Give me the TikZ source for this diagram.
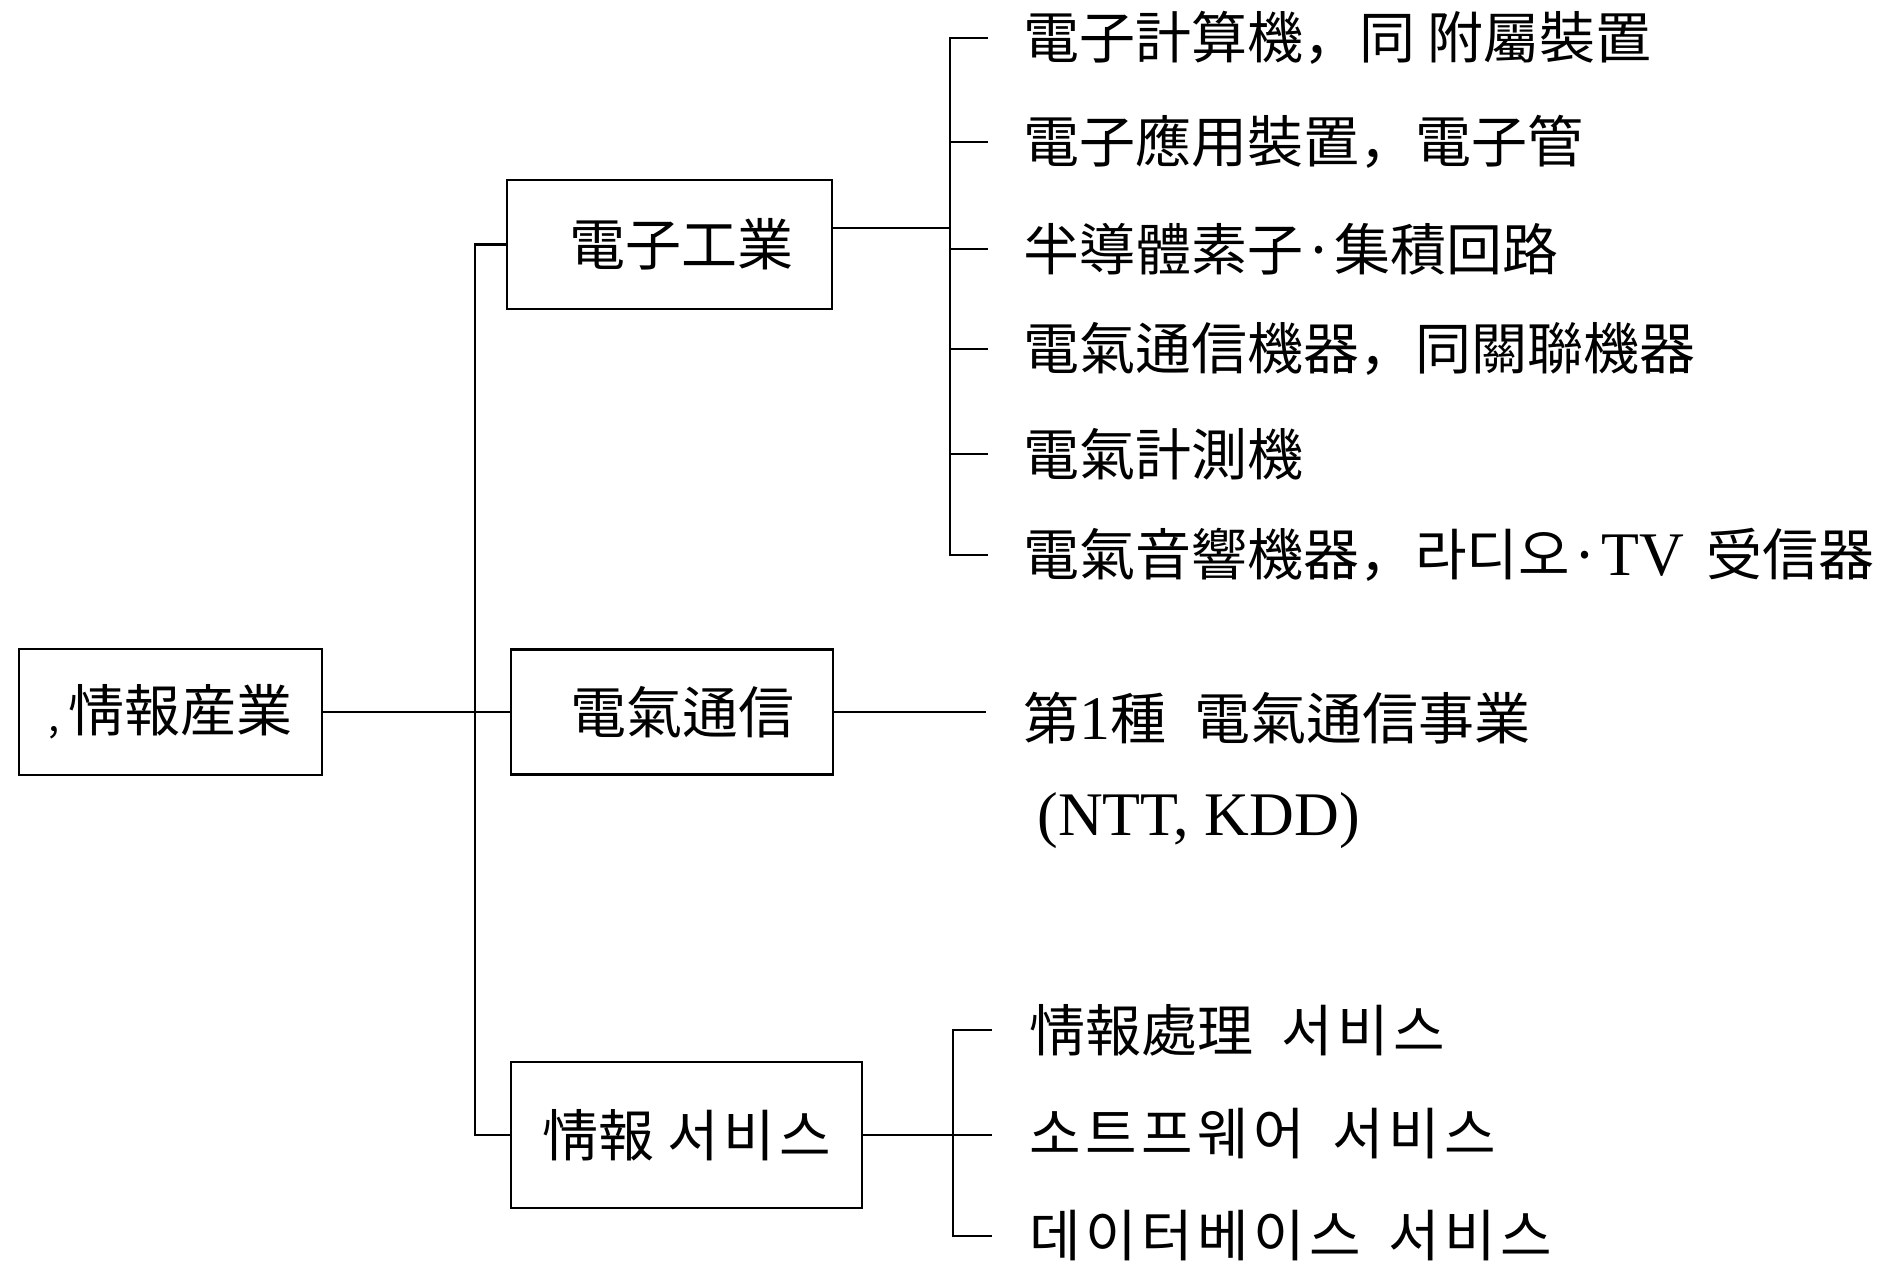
\documentclass[tikz,border=0pt]{standalone}
\usepackage{fontspec}
\setmainfont{Noto Sans CJK KR}
\newfontfamily\lat{Liberation Serif}
\newfontfamily\hgf[LetterSpace=8]{Noto Sans CJK KR}
\newcommand{\La}[1]{{\lat\fontsize{31}{34}\selectfont #1}}
\newcommand{\Hg}[1]{{\hgf #1}}
\begin{document}
\begin{tikzpicture}[x=0.5pt,y=-0.5pt,line width=1.4pt,
  box/.style={draw,inner sep=0pt,font=\fontsize{28}{32}\selectfont},
  item/.style={anchor=west,inner sep=0pt,font=\fontsize{28}{32}\selectfont}]
\useasboundingbox (0,0) rectangle (1885,1271);
% boxes
\node[box,minimum width=151.5pt,minimum height=63pt] (root) at (170.5,712) {{\fontsize{20}{20}\selectfont ,}\hspace{4pt}情報産業};
\node[box,minimum width=162.5pt,minimum height=64.5pt] (elec) at (669.5,244.5) {\hspace{12pt}電子工業};
\node[box,minimum width=161pt,minimum height=62.5pt] (tele) at (672,712) {\hspace{10pt}電氣通信};
\node[box,minimum width=175.5pt,minimum height=73pt] (info) at (686.5,1135) {情報 \Hg{서비스}};
% electronic items
\node[item] (e1) at (1022,38) {電子計算機，同 附屬裝置};
\node[item] (e2) at (1022,142) {電子應用裝置，電子管};
\node[item] (e3) at (1022,249) {半導體素子·集積回路};
\node[item] (e4) at (1022,349) {電氣通信機器，同關聯機器};
\node[item] (e5) at (1022,454) {電氣計測機};
\node[item] (e6) at (1022,555) {電氣音響機器，라디오·\La{TV}\hspace{0.4em}受信器};
% telecom items
\node[item] (t1) at (1022,718) {第\La{1}種\hspace{0.5em}電氣通信事業};
\node[item] (t2) at (1036,821) {\La{(NTT, KDD)}};
% info items
\node[item] (s1) at (1028,1030) {情報處理\hspace{0.5em}\Hg{서비스}};
\node[item] (s2) at (1028,1134) {\Hg{소트프웨어}\hspace{0.5em}\Hg{서비스}};
\node[item] (s3) at (1028,1236) {\Hg{데이터베이스}\hspace{0.5em}\Hg{서비스}};
% main tree
\coordinate (j) at (475,712);
\draw (root.east) -- (j);
\draw (elec.west) -| (j) |- (info.west);
\draw (j) -- (tele.west);
% electronic branch
\coordinate (sv) at (950,228);
\draw (sv -| elec.east) -- (sv);
\foreach \n in {e1,e2,e3,e4,e5,e6}{\coordinate (\n t) at ([xshift=-17pt]\n.west);}
\draw (e1t |- e1.west) -| (sv |- e6.west) -- (e6t |- e6.west);
\foreach \n in {e2,e3,e4,e5}{\draw (sv |- \n.west) -- (\n t |- \n.west);}
% telecom branch
\coordinate (tt) at ([xshift=-18pt]t1.west);
\draw (tele.east) -- (tele.east -| tt);
% info branch
\coordinate (sv2) at (953,1135);
\draw (info.east) -- (sv2);
\foreach \n in {s1,s2,s3}{\coordinate (\n t) at ([xshift=-18pt]\n.west);}
\draw (s1t |- s1.west) -| (sv2 |- s3.west) -- (s3t |- s3.west);
\draw (sv2) -- (s2t |- sv2);
\end{tikzpicture}
\end{document}
